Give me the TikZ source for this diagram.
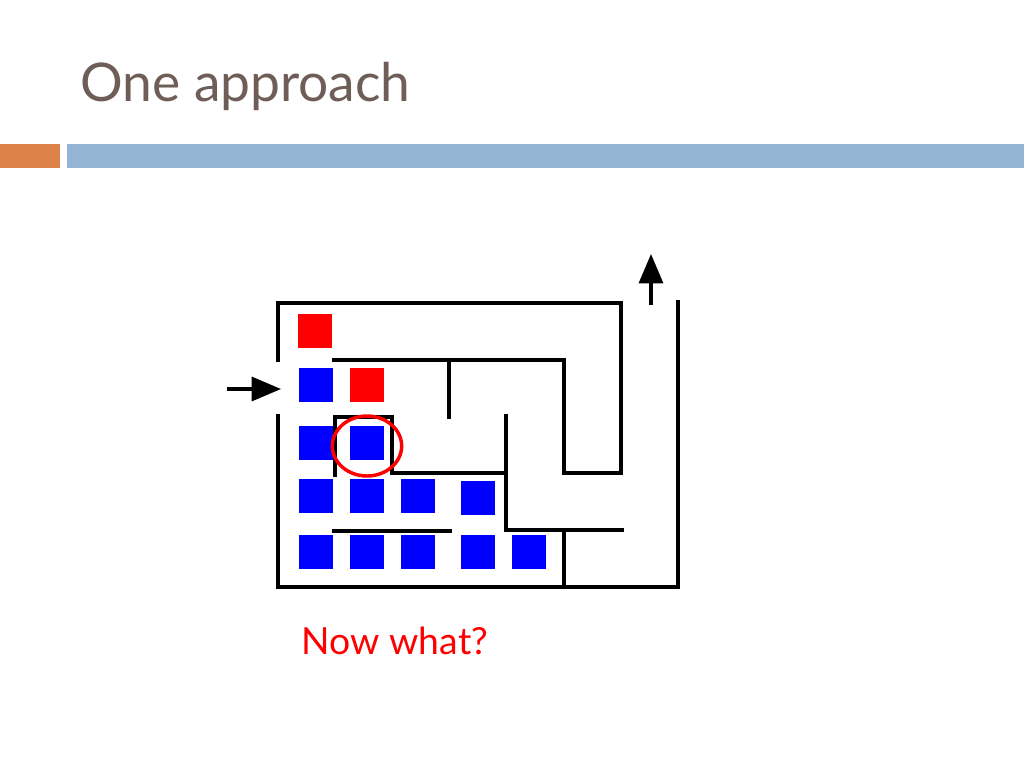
\documentclass[tikz,border=0pt]{standalone}
\usepackage{fontspec}
\setmainfont{Lato}
\usetikzlibrary{arrows.meta}
\definecolor{titlec}{HTML}{6E5E57}
\definecolor{orbar}{HTML}{DD8248}
\definecolor{blbar}{HTML}{93B4D3}
\begin{document}
\begin{tikzpicture}[x=0.75pt,y=-0.75pt,
  wall/.style={line width=2.6pt,line cap=rect},
  bsq/.style={fill=blue,minimum size=25pt,inner sep=0pt},
  rsq/.style={fill=red,minimum size=25pt,inner sep=0pt},
  arr/.style={line width=2.4pt,-{Triangle[length=22pt,width=18pt]}}]
\useasboundingbox (0,0) rectangle (1024,768);
\fill[white] (0,0) rectangle (1024,768);
\node[anchor=base west,inner sep=0pt,text=titlec,font=\fontsize{40}{46}\selectfont] (title) at (80,101) {One approach};
\fill[orbar] (0,144) rectangle (60,168);
\fill[blbar] (67,144) rectangle (1024,168);
% maze
\draw[wall] (278,360) -- (278,303) -- (621,303) -- (621,473) -- (564,473) -- (564,360) -- (334,360);
\draw[wall] (278,416) -- (278,587) -- (678,587) -- (678,302);
\draw[wall] (449,360) -- (449,417);
\draw[wall] (335,475) -- (335,417) -- (392,417) -- (392,473) -- (506,473);
\draw[wall] (506,416) -- (506,530) -- (622,530);
\draw[wall] (564,530) -- (564,587);
\draw[wall] (334,531) -- (450,531);
\coordinate (ex0) at (651,305); \coordinate (ex1) at (651,254);
\draw[arr] (ex0) -- (ex1);
\coordinate (en0) at (227,389); \coordinate (en1) at (281,389);
\draw[arr] (en0) -- (en1);
\node[rsq] (r1) at (315,331) {};
\node[bsq] (b21) at (316,385) {};
\node[rsq] (r2) at (367,385) {};
\node[bsq] (b31) at (316,443) {};
\node[bsq] (b32) at (367,443) {};
\node[bsq] (b41) at (316,496) {};
\node[bsq] (b42) at (367,496) {};
\node[bsq] (b43) at (418,496) {};
\node[bsq] (b44) at (478,498) {};
\node[bsq] (b51) at (316,552) {};
\node[bsq] (b52) at (367,552) {};
\node[bsq] (b53) at (418,552) {};
\node[bsq] (b54) at (478,552) {};
\node[bsq] (b55) at (529,552) {};
\draw[red,line width=2.6pt] (367,446) ellipse [x radius=26pt,y radius=22.5pt];
\node[text=red,font=\fontsize{28}{33}\selectfont] (q) at (395,641) {Now what?};
\end{tikzpicture}
\end{document}
